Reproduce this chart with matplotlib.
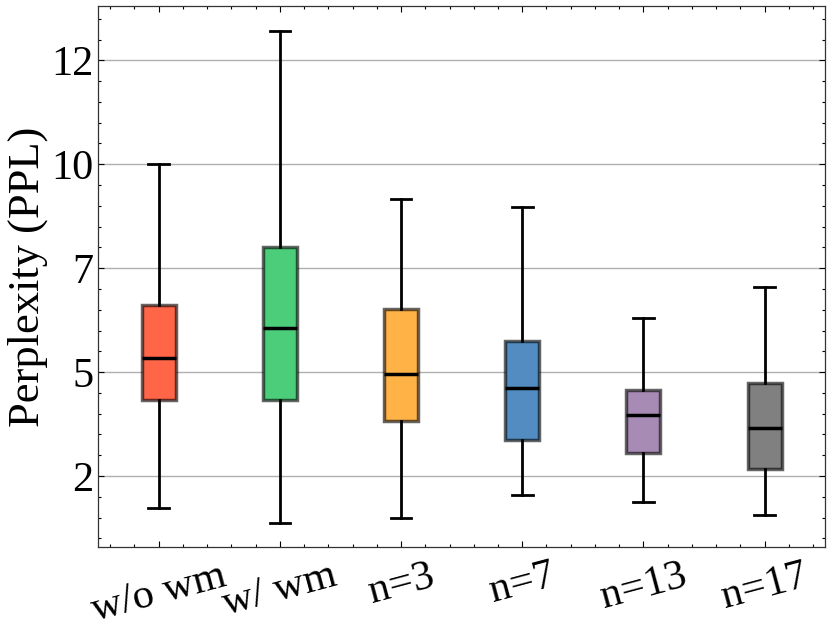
import numpy as np
import matplotlib
matplotlib.use('Agg')
import matplotlib.pyplot as plt
from matplotlib.ticker import MultipleLocator

plt.rcParams['font.family'] = ['Liberation Serif', 'DejaVu Serif']
plt.rcParams['mathtext.fontset'] = 'stix'

# box stats
labels = ['w/o wm', 'w/ wm', 'n=3', 'n=7', 'n=13', 'n=17']
whislo = [1.22, 0.88, 0.99, 1.54, 1.37, 1.05]
q1 = [3.84, 3.84, 3.33, 2.86, 2.55, 2.18]
med = [4.83, 5.56, 4.45, 4.11, 3.47, 3.15]
q3 = [6.11, 7.51, 6.01, 5.25, 4.07, 4.23]
whishi = [9.51, 12.71, 8.67, 8.47, 5.81, 6.54]

box_colors = ['#ff6547', '#4ccd7a', '#ffb347', '#528cc0', '#a88bb4', '#808080']

ytick_pos = [2, 4.5, 7, 9.5, 12]
ytick_lbl = ['2', '5', '7', '10', '12']

stats = []
for i in range(len(labels)):
    stats.append({'label': labels[i], 'whislo': whislo[i], 'q1': q1[i], 'med': med[i],
                  'q3': q3[i], 'whishi': whishi[i], 'fliers': []})

fig = plt.figure(figsize=(8.31, 6.31), dpi=100)
ax = fig.add_axes([0.118, 0.133, 0.875, 0.857])

bp = ax.bxp(stats, widths=0.28, patch_artist=True, showfliers=False, capwidths=0.17,
            boxprops=dict(linewidth=2.5),
            whiskerprops=dict(color='k', linewidth=2.0),
            capprops=dict(color='k', linewidth=2.0),
            medianprops=dict(color='k', linewidth=2.5),
            zorder=3)
for patch, c in zip(bp['boxes'], box_colors):
    patch.set_facecolor(c)
    patch.set_edgecolor((0, 0, 0, 0.6))

ax.set_xlim(0.5, 6.5)
ax.set_ylim(0.29, 13.3)
ax.set_yticks(ytick_pos)
ax.set_yticklabels(ytick_lbl)
ax.yaxis.set_minor_locator(MultipleLocator(0.5))
ax.xaxis.set_minor_locator(MultipleLocator(0.2))
ax.set_xticks(range(1, 7))
ax.set_xticklabels(labels, rotation=15, ha='center')

ax.tick_params(which='both', direction='in', top=True, right=True)
ax.tick_params(axis='y', labelsize=30.5)
ax.tick_params(axis='x', labelsize=30.5)
ax.tick_params(which='major', length=4.5, width=0.8)
ax.tick_params(which='minor', length=2.5, width=0.8)
ax.tick_params(axis='x', which='major', pad=7)
for s in ax.spines.values():
    s.set_linewidth(0.9)
    s.set_color('#333333')

ax.grid(axis='y', which='major', color='#b0b0b0', linewidth=1.0, zorder=0)
ax.set_axisbelow(True)
ax.set_ylabel('Perplexity (PPL)', fontsize=32, labelpad=2)

fig.savefig('out.png', dpi=100)
